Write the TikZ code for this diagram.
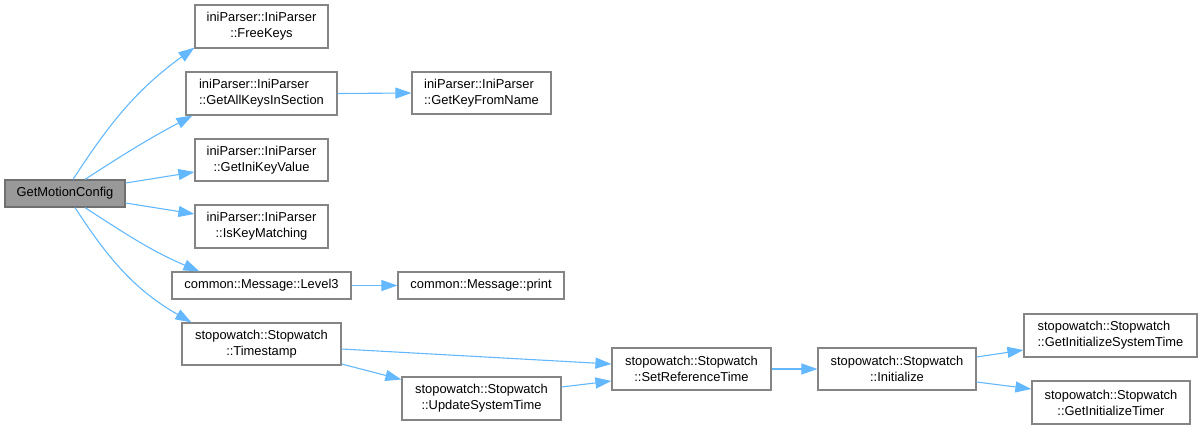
\documentclass[tikz,border=0pt]{standalone}
\usepackage{fontspec}
\setmainfont{Liberation Sans}
\usetikzlibrary{arrows.meta}
\begin{document}
\begin{tikzpicture}[x=1pt,y=1pt,
  box/.style={draw=boxline,fill=white,line width=1.2pt,inner sep=0pt,
    font=\fontsize{12.9}{16}\selectfont,text=black},
  root/.style={box,fill=rootfill,draw=rootline},
  edge/.style={draw=edgeblue,line width=1.1pt,-{Triangle[length=16pt,width=11pt]}}]
\definecolor{boxline}{HTML}{858585}
\definecolor{rootline}{HTML}{707070}
\definecolor{rootfill}{HTML}{999999}
\definecolor{edgeblue}{HTML}{63B8FF}
\useasboundingbox (0,0) rectangle (1203,-429);
% nodes
\node[root,minimum width=120pt,minimum height=27pt] (root) at (65,-193.5) {GetMotionConfig};
\node[box,align=center,minimum width=133pt,minimum height=43pt] (freekeys) at (261.5,-26.5) {iniParser::IniParser\\::FreeKeys};
\node[box,align=left,minimum width=151pt,minimum height=43pt] (getall) at (261.5,-93.5) {iniParser::IniParser\\::GetAllKeysInSection};
\node[box,align=center,minimum width=133pt,minimum height=42pt] (getini) at (261.5,-160) {iniParser::IniParser\\::GetIniKeyValue};
\node[box,align=center,minimum width=133pt,minimum height=43pt] (iskey) at (261.5,-226.5) {iniParser::IniParser\\::IsKeyMatching};
\node[box,minimum width=179pt,minimum height=27pt] (level3) at (261.5,-285.5) {common::Message::Level3};
\node[box,align=center,minimum width=159pt,minimum height=42pt] (timestamp) at (261.5,-344) {stopowatch::Stopwatch\\::Timestamp};
\node[box,align=left,minimum width=139pt,minimum height=42pt] (getkey) at (481.5,-93) {iniParser::IniParser\\::GetKeyFromName};
\node[box,minimum width=166pt,minimum height=27pt] (print) at (481,-285.5) {common::Message::print};
\node[box,align=center,minimum width=159pt,minimum height=43pt] (update) at (481.5,-398.5) {stopowatch::Stopwatch\\::UpdateSystemTime};
\node[box,align=center,minimum width=159pt,minimum height=42pt] (setref) at (691.5,-369) {stopowatch::Stopwatch\\::SetReferenceTime};
\node[box,align=center,minimum width=158pt,minimum height=42pt] (init) at (897,-369) {stopowatch::Stopwatch\\::Initialize};
\node[box,align=left,minimum width=173pt,minimum height=43pt] (getsys) at (1110.5,-335.5) {stopowatch::Stopwatch\\::GetInitializeSystemTime};
\node[box,align=center,minimum width=158pt,minimum height=43pt] (gettimer) at (1111,-402.5) {stopowatch::Stopwatch\\::GetInitializeTimer};
% edges
\draw[edge] ([xshift=8pt]root.north) to[out=57,in=216] ([yshift=1pt]freekeys.south west);
\draw[edge] ([xshift=20pt]root.north) to[out=33,in=208] ([xshift=7pt]getall.south west);
\draw[edge] ([yshift=10.5pt]root.east) -- ([yshift=-12pt]getini.west);
\draw[edge] ([yshift=-9.5pt]root.east) -- ([yshift=12.5pt]iskey.west);
\draw[edge] ([xshift=20pt]root.south) to[out=-33,in=157] ([xshift=28pt]level3.north west);
\draw[edge] ([xshift=10pt]root.south) to[out=-57,in=150] ([xshift=10pt]timestamp.north west);
\draw[edge] (getall.east) -- (getkey.west);
\draw[edge] (level3.east) -- (print.west);
\draw[edge] ([yshift=-5pt]timestamp.east) -- ([yshift=5pt]setref.west);
\draw[edge] ([yshift=-20pt]timestamp.east) -- ([yshift=19pt]update.west);
\draw[edge] ([yshift=11.5pt]update.east) -- ([yshift=-12pt]setref.west);
\draw[edge] (setref.east) -- (init.west);
\draw[edge] ([yshift=12pt]init.east) -- ([yshift=-14.5pt]getsys.west);
\draw[edge] ([yshift=-13pt]init.east) -- ([yshift=13.5pt]gettimer.west);
\end{tikzpicture}
\end{document}
